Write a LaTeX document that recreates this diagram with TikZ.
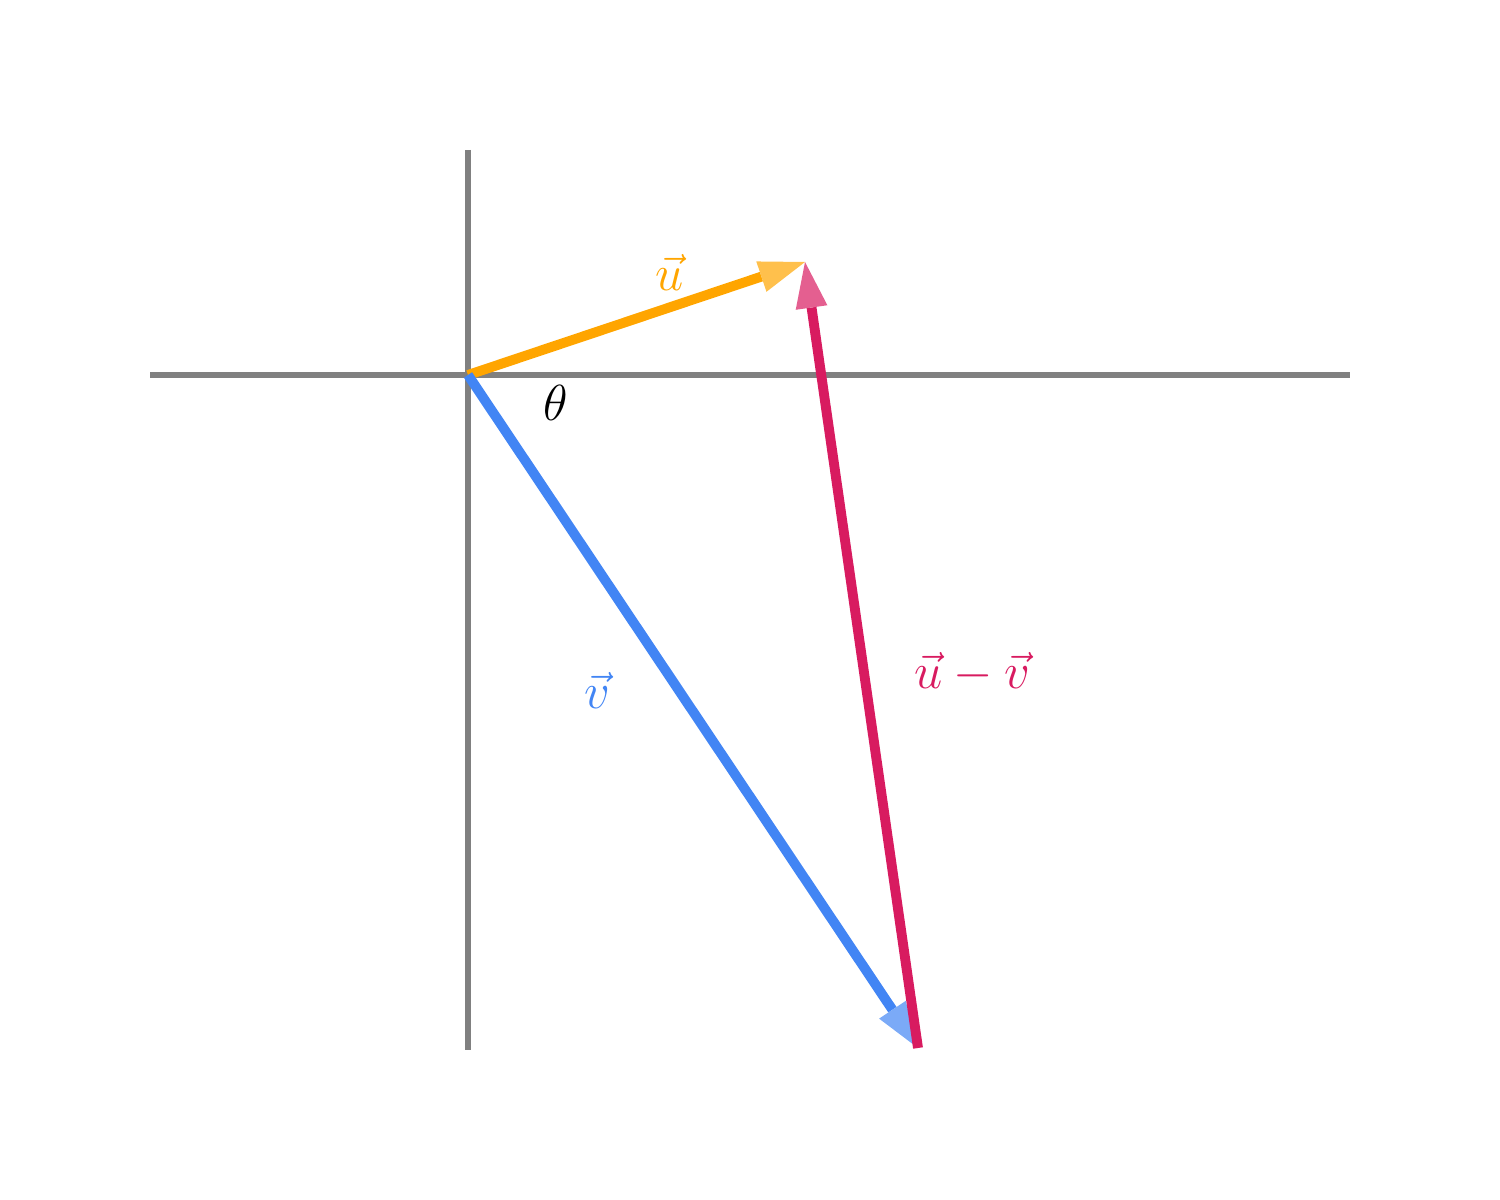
\documentclass[tikz,border=0pt]{standalone}
\usetikzlibrary{arrows.meta}
\definecolor{axisgray}{RGB}{128,128,128}
\definecolor{uorange}{RGB}{255,165,0}
\definecolor{vblue}{RGB}{66,133,244}
\definecolor{dmag}{RGB}{216,27,96}
\tikzset{
  axis/.style={axisgray, line width=1.45pt},
  vecline/.style={line width=2.8pt},
  lbl/.style={font=\fontsize{14}{17}\selectfont, inner sep=0pt},
}
\begin{document}
\begin{tikzpicture}
\useasboundingbox (0,0) rectangle (15,12);
\coordinate (O) at (4.68,8.25);
\coordinate (U) at (8.05,9.38);
\coordinate (V) at (9.18,1.52);
\coordinate (xl) at (1.5,8.25);
\coordinate (xr) at (13.5,8.25);
\coordinate (yt) at (4.68,10.5);
\coordinate (yb) at (4.68,1.5);
\draw[axis] (xl) -- (xr);
\draw[axis] (yt) -- (yb);
\draw[vecline, uorange, -{Triangle[length=0.46cm,width=0.32cm,line width=0pt,color=uorange!70!white,fill=uorange!70!white]}] (O) -- (U);
\draw[vecline, vblue, -{Triangle[length=0.46cm,width=0.32cm,line width=0pt,color=vblue!70!white,fill=vblue!70!white]}] (O) -- (V);
\draw[vecline, dmag, -{Triangle[length=0.46cm,width=0.32cm,line width=0pt,color=dmag!70!white,fill=dmag!70!white]}] (V) -- (U);
\node[lbl, uorange] (lu) at (6.70,9.28) {$\vec{u}$};
\node[lbl, vblue] (lv) at (5.97,5.10) {$\vec{v}$};
\node[lbl, dmag] (luv) at (9.72,5.27) {$\vec{u}-\vec{v}$};
\node[lbl] (lt) at (5.56,7.97) {$\theta$};
\end{tikzpicture}
\end{document}
